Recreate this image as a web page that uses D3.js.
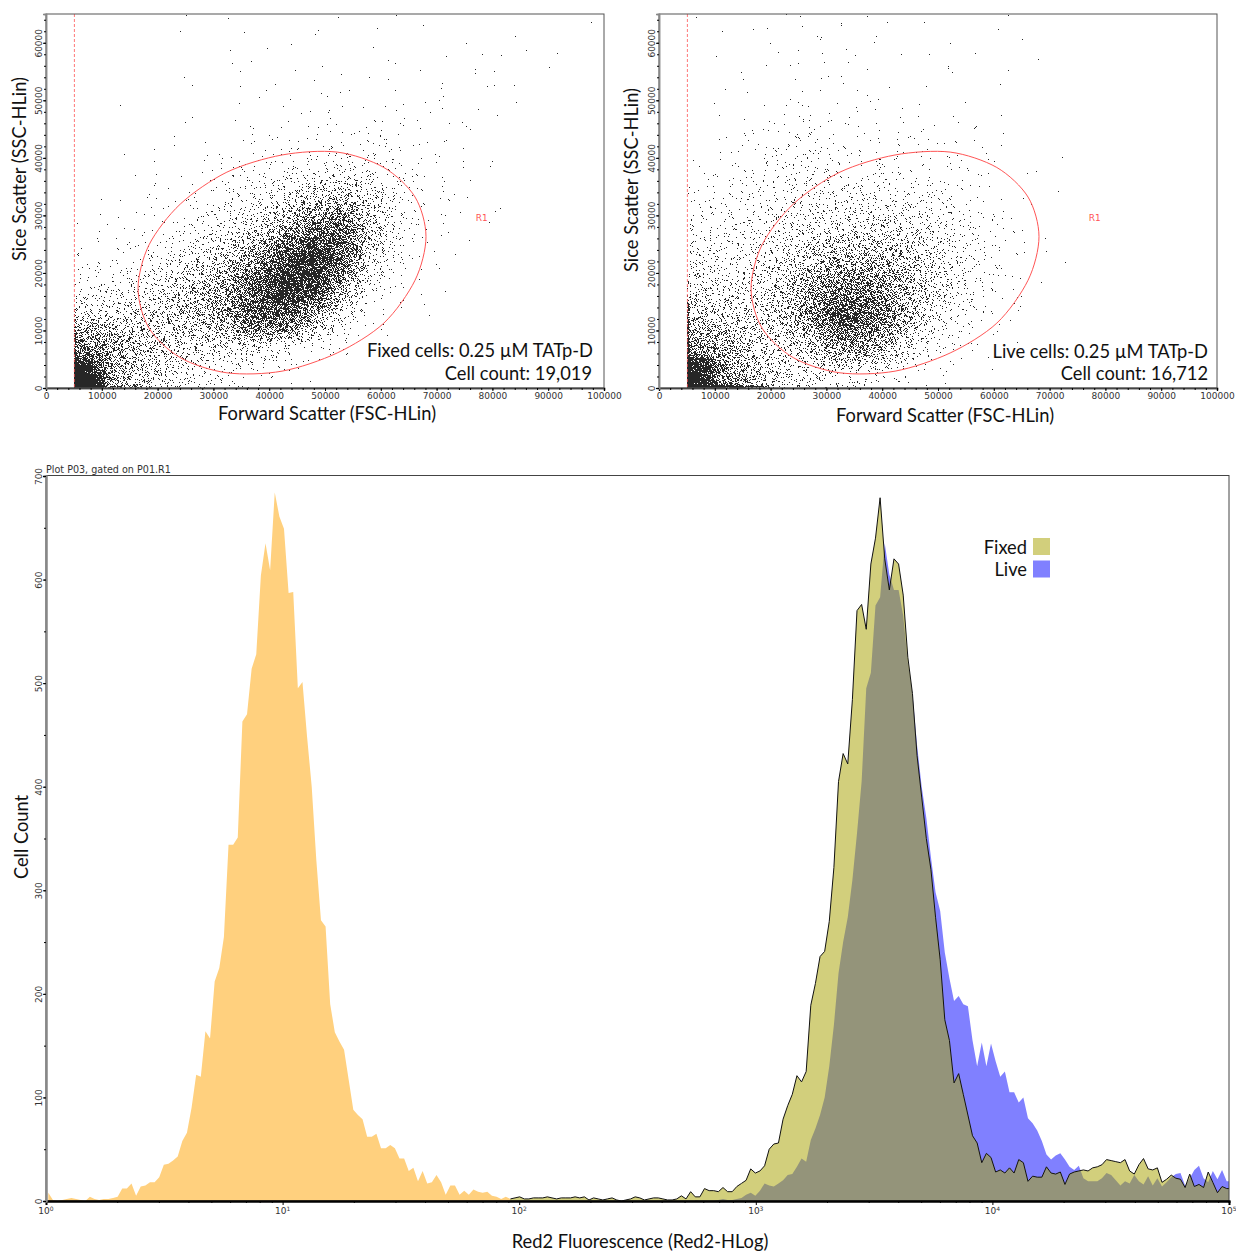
<!DOCTYPE html>
<html lang="en">
<head>
<meta charset="UTF-8">
<title>Fixed and live cells: scatter gates and Red2 histogram</title>
<script src="https://d3js.org/d3.v7.min.js"></script>
<style>
    body { margin: 0; background: #fff; }
    svg { display: block; }
    .tick text { font-family: "DejaVu Sans", sans-serif; font-size: 9px; fill: #333; }
    .title { font-family: Lato, sans-serif; font-size: 18.3px; fill: #111; }
    .small { font-family: "DejaVu Sans", sans-serif; font-size: 9px; fill: #333; }
</style>
</head>
<body>
<div id="chart"></div>
<script>
// Scatter density: dots per 5000 x 5000 cell.
// Rows go bottom to top, columns start at FSC 5000.
const fixedDensity = [
    [900, 300, 150, 80, 45, 22, 12, 5, 2, 1],
    [500, 300, 200, 150, 110, 110, 110, 55, 20, 6, 2],
    [110, 110, 130, 170, 220, 380, 850, 850, 330, 70, 10, 3, 1],
    [30, 35, 60, 120, 210, 350, 800, 1500, 1200, 330, 45, 8, 2, 1],
    [8, 10, 20, 40, 100, 180, 350, 900, 1500, 850, 130, 25, 5, 1, 1],
    [2, 4, 8, 12, 30, 70, 130, 280, 600, 750, 220, 45, 8, 2, 1, 1],
    [1, 2, 4, 6, 12, 25, 50, 90, 170, 240, 130, 35, 10, 5, 2],
    [0, 1, 2, 3, 7, 12, 18, 25, 35, 45, 40, 20, 8, 5, 2],
    [0, 0, 1, 1, 2, 3, 5, 8, 10, 12, 14, 11, 5, 3, 2],
    [0, 1, 0, 0, 1, 1, 3, 3, 4, 3, 5, 6, 3, 3, 2, 2],
    [0, 0, 0, 0, 1, 1, 2, 2, 2, 3, 3, 1, 2, 2, 3, 2],
    [0, 0, 0, 0, 1, 2, 1, 1, 1, 1, 1, 1, 1, 2, 2, 1, 1, 1],
    [0, 0, 0, 1, 1, 1, 1, 1, 1, 1, 0, 2, 1, 0, 0, 1, 1, 0, 1]
];
const liveDensity = [
    [800, 450, 170, 100, 70, 50, 30, 12, 5, 2, 1],
    [400, 250, 140, 110, 180, 420, 400, 160, 45, 15, 5, 2],
    [170, 130, 110, 190, 480, 950, 800, 350, 110, 35, 12, 4, 1],
    [90, 75, 90, 170, 360, 560, 500, 320, 160, 65, 22, 7, 2],
    [55, 45, 60, 100, 170, 250, 250, 210, 130, 55, 22, 8, 2, 1],
    [30, 35, 45, 65, 80, 95, 110, 110, 75, 45, 20, 6, 1],
    [17, 20, 28, 42, 50, 50, 50, 45, 35, 22, 10, 3, 1, 1],
    [5, 8, 15, 30, 32, 20, 18, 16, 14, 9, 5, 2, 1, 1],
    [2, 4, 8, 20, 20, 10, 8, 8, 10, 8, 4, 2],
    [1, 2, 3, 4, 10, 5, 5, 3, 3, 2, 1, 1],
    [0, 1, 1, 3, 3, 3, 2, 1, 1, 1, 1, 1],
    [0, 1, 1, 3, 2, 3, 3, 1, 1, 2, 1, 1, 1],
    [1, 1, 2, 3, 3, 3, 2, 1, 1, 1, 1, 1]
];
// Dark corner near the origin, 1250 x 1250 cells from (5000, 0)
const fixedCorner = [[400, 380, 220, 80], [260, 200, 110, 50], [140, 100, 50, 25], [80, 50, 25, 12]];
const liveCorner = [[160, 130, 90, 40], [130, 110, 70, 35], [110, 90, 60, 30], [100, 80, 50, 25]];
// Pile-up along the threshold line: 300 wide, 2500 tall cells from (5000, 0)
const fixedEdge = [[100], [60], [40], [25], [10], [5]];
const liveEdge = [[90], [70], [60], [50], [40], [25]];
// Pile-up along the x axis: 2500 wide, 300 tall cells from (5000, 0)
const liveFloor = [[160, 140, 110, 90, 50, 15]];
const fixedFloor = [[80, 50, 25, 12, 5, 2]];

const fscTicks = d3.range(0, 100001, 10000);
const fscMinor = d3.range(0, 100001, 2000);
const sscTicks = d3.range(0, 60001, 10000);
const sscMinor = d3.range(0, 65001, 2000);

// Gate R1 outline, same in both plots
const gateFsc = [68100, 66140, 60540, 52180, 42300, 32420, 24060, 18460, 16500, 18460, 24060, 32420, 42300, 52180, 60540, 66140];
const gateSsc = [26300, 33185, 38325, 41000, 40500, 37513, 31961, 24869, 17300, 10415, 5275, 2641, 2930, 6087, 11275, 18731];

// Histogram counts per channel (256 channels over 5 decades)
const unstainedCounts = [8, 1, 0, 1, 2, 3, 2, 1, 0, 4, 2, 1, 2, 2, 3, 4, 12, 12, 17, 5, 14, 15, 18, 18, 23, 35, 36, 39, 43, 58, 66, 90, 122, 120, 164, 157, 212, 225, 255, 344, 344, 351, 463, 470, 514, 528, 604, 635, 609, 684, 661, 649, 587, 588, 495, 501, 448, 400, 329, 271, 265, 190, 163, 154, 146, 117, 88, 83, 79, 62, 62, 65, 51, 51, 54, 51, 41, 41, 29, 32, 19, 29, 17, 18, 25, 18, 6, 15, 15, 6, 10, 6, 11, 9, 8, 9, 5, 4, 2, 4, 2, 1, 1, 0];
const fixedFirstChannel = 100;
const fixedCounts = [2, 3, 4, 2, 2, 3, 3, 3, 4, 3, 2, 3, 3, 3, 4, 3, 4, 1, 3, 2, 1, 2, 3, 1, 0, 1, 2, 4, 3, 1, 2, 3, 3, 2, 1, 1, 2, 5, 2, 9, 4, 4, 12, 10, 10, 9, 13, 9, 9, 14, 17, 20, 31, 27, 29, 34, 50, 55, 56, 79, 92, 103, 121, 115, 125, 189, 210, 236, 241, 270, 322, 405, 432, 422, 484, 570, 576, 552, 615, 640, 679, 620, 590, 620, 615, 585, 525, 490, 430, 390, 350, 320, 274, 233, 175, 155, 114, 123, 103, 83, 63, 56, 37, 46, 42, 28, 30, 27, 32, 27, 40, 37, 19, 24, 23, 23, 33, 27, 26, 28, 16, 26, 28, 29, 30, 29, 32, 33, 35, 40, 39, 38, 37, 40, 29, 26, 35, 41, 31, 30, 32, 18, 21, 25, 22, 21, 13, 26, 14, 16, 13, 28, 18, 8, 14, 12, 12];
const liveFirstChannel = 140;
const liveCounts = [1, 0, 0, 0, 0, 1, 2, 1, 1, 2, 3, 6, 8, 5, 10, 17, 15, 14, 17, 20, 25, 26, 33, 41, 38, 59, 70, 83, 100, 130, 170, 220, 250, 274, 310, 355, 405, 495, 510, 575, 583, 635, 605, 590, 590, 565, 520, 490, 440, 400, 370, 332, 298, 280, 240, 215, 193, 198, 190, 188, 155, 130, 153, 130, 152, 135, 120, 125, 105, 105, 95, 100, 80, 75, 68, 58, 45, 40, 44, 46, 40, 33, 30, 34, 22, 19, 19, 19, 22, 27, 25, 20, 15, 19, 17, 25, 19, 16, 24, 15, 22, 14, 18, 23, 26, 27, 15, 22, 30, 34, 22, 18, 29, 21, 30, 19, 19];
const countTicks = d3.range(0, 701, 100);
const countMinor = d3.range(0, 701, 50);
const decadeTicks = [1, 10, 100, 1000, 10000, 100000];
const decadeExponents = ["0", "1", "2", "3", "4", "5"];
const decadeMinor = decadeTicks.slice(0, 5).flatMap(d => d3.range(2, 10).map(m => m * d));
const legendNames = ["Fixed", "Live"];

const orange = "#ffd07e", yellow = "#d2cf7c", blue = "#8080ff", overlap = "#94947a", red = "#f55";

const svg = d3.select("#chart").append("svg").attr("width", 1236).attr("height", 1255);

// the source picture is a soft screenshot, so the dots get a slight blur
svg.append("filter").attr("id", "soft").append("feGaussianBlur").attr("stdDeviation", 0.35);

function halton(i, base) {
    let f = 1, r = 0;
    while (i > 0) {
        f /= base;
        r += f * (i % base);
        i = Math.floor(i / base);
    }
    return r;
}

// Stipple a density table: evenly spread dots (no randomness) inside each cell.
// Single dots are not read from the picture, only the counts per cell are.
let dotIndex = 1;
function stipple(path, table, x0, dx, dy, x, y) {
    table.forEach((row, r) => row.forEach((count, c) => {
        for (let k = 0; k < count; k++, dotIndex++) {
            let fsc = x0 + (c + 0.5) * dx + dx * (halton(dotIndex, 2) + halton(dotIndex, 5) - 1);
            let ssc = (r + 0.5) * dy + dy * (halton(dotIndex, 3) + halton(dotIndex, 7) - 1);
            if (fsc < 5000) fsc = 10000 - fsc;
            if (fsc > 100000) fsc = 200000 - fsc;
            if (ssc < 0) ssc = -ssc;
            if (ssc > 65000) ssc = 130000 - ssc;
            path.rect(Math.round(x(fsc)), Math.round(y(ssc)) - 1, 0.9, 0.9);
        }
    }));
}

function scatterPlot(opts) {
    const x = d3.scaleLinear().domain([0, 100000]).range([opts.left, opts.left + 558]);
    const y = d3.scaleLinear().domain([0, 65000]).range([388, 14]);
    const g = svg.append("g");

    const dots = d3.path();
    stipple(dots, opts.density, 5000, 5000, 5000, x, y);
    stipple(dots, opts.corner, 5000, 1250, 1250, x, y);
    stipple(dots, opts.edge, 5000, 300, 2500, x, y);
    stipple(dots, opts.floor, 5000, 2500, 300, x, y);
    g.append("path").attr("d", dots.toString()).attr("fill", "#111").attr("filter", "url(#soft)");

    // threshold line and gate
    g.append("line").attr("x1", x(5000) + 0.5).attr("x2", x(5000) + 0.5).attr("y1", y(65000)).attr("y2", y(0))
        .attr("stroke", red).attr("stroke-width", 0.8).attr("stroke-dasharray", "3,2");
    const gate = d3.line().x(i => x(gateFsc[i])).y(i => y(gateSsc[i])).curve(d3.curveCardinalClosed.tension(0.1));
    g.append("path").attr("d", gate(d3.range(gateFsc.length))).attr("fill", "none").attr("stroke", red).attr("stroke-width", 1);
    g.append("text").attr("class", "small").attr("x", x(78100)).attr("y", y(29560)).attr("dy", "0.35em")
        .attr("text-anchor", "middle").style("fill", red).text("R1");

    g.append("rect").attr("x", x(0)).attr("y", y(65000)).attr("width", 558).attr("height", 374)
        .attr("fill", "none").attr("stroke", "#555");

    const xAxis = g.append("g").attr("transform", "translate(0,388)");
    xAxis.call(d3.axisBottom(x).tickValues(fscTicks).tickFormat(d3.format("d")).tickSize(3).tickPadding(2));
    xAxis.append("g").call(d3.axisBottom(x).tickValues(fscMinor).tickFormat("").tickSize(2));
    xAxis.selectAll(".domain").attr("stroke", "#444").attr("stroke-width", 1.5);

    const yAxis = g.append("g").attr("transform", `translate(${x(0)},0)`);
    yAxis.call(d3.axisLeft(y).tickValues(sscTicks).tickFormat(d3.format("d")).tickSize(3));
    yAxis.append("g").call(d3.axisLeft(y).tickValues(sscMinor).tickFormat("").tickSize(2));
    yAxis.selectAll(".domain").attr("stroke", "#888").attr("stroke-width", 1.5);
    yAxis.selectAll(".tick text").attr("x", 0).attr("dy", 0).attr("text-anchor", "middle")
        .attr("transform", "translate(-4,0) rotate(-90)");

    g.append("text").attr("class", "title").attr("x", opts.xTitleX).attr("y", opts.xTitleY).attr("dy", "0.35em")
        .attr("text-anchor", "middle").text("Forward Scatter (FSC-HLin)");
    g.append("text").attr("class", "title").attr("text-anchor", "middle").attr("dy", "0.35em")
        .attr("transform", `translate(${opts.yTitleX},${opts.yTitleY}) rotate(-90)`).text("Sice Scatter (SSC-HLin)");
    opts.notes.forEach(n => g.append("text").attr("class", "title").attr("x", n[0]).attr("y", n[1]).attr("dy", "0.35em")
        .attr("text-anchor", "end").text(n[2]));
}

scatterPlot({
    left: 46, density: fixedDensity, corner: fixedCorner, edge: fixedEdge, floor: fixedFloor,
    xTitleX: 327, xTitleY: 414, yTitleX: 20, yTitleY: 169,
    notes: [[593, 351, "Fixed cells: 0.25 µM TATp-D"], [592, 374, "Cell count: 19,019"]]
});
scatterPlot({
    left: 659, density: liveDensity, corner: liveCorner, edge: liveEdge, floor: liveFloor,
    xTitleX: 945, xTitleY: 416, yTitleX: 632, yTitleY: 180,
    notes: [[1208, 352, "Live cells:  0.25 µM TATp-D"], [1208, 374, "Cell count: 16,712"]]
});

// Histogram
const x = d3.scaleLog().domain([1, 100000]).range([46, 1229]);
const y = d3.scaleLinear().domain([0, 700]).range([1201, 476]);
const channelValue = ch => Math.pow(10, (ch + 0.5) * 5 / 256);
const toPoints = (counts, first) => counts.map((c, i) => ({v: channelValue(first + i), c}));

const unstained = toPoints(unstainedCounts, 0);
const fixed = toPoints(fixedCounts, fixedFirstChannel);
const live = toPoints(liveCounts, liveFirstChannel);

const area = d3.area().x(d => Math.min(x(d.v), 1229)).y0(y(0)).y1(d => y(d.c));
const line = d3.line().x(d => Math.min(x(d.v), 1229)).y(d => y(d.c));
const hist = svg.append("g");

hist.append("clipPath").attr("id", "fixedClip").append("path").attr("d", area(fixed));
hist.append("path").attr("d", area(unstained)).attr("fill", orange);
hist.append("path").attr("d", area(live)).attr("fill", blue);
hist.append("path").attr("d", area(fixed)).attr("fill", yellow);
hist.append("path").attr("d", area(live)).attr("fill", overlap).attr("clip-path", "url(#fixedClip)");
hist.append("path").attr("d", line(fixed)).attr("fill", "none").attr("stroke", "#111").attr("stroke-width", 1);

hist.append("rect").attr("x", 46).attr("y", 475.5).attr("width", 1183).attr("height", 725.5)
    .attr("fill", "none").attr("stroke", "#444");

const xAxisH = hist.append("g").attr("transform", "translate(0,1201)");
xAxisH.call(d3.axisBottom(x).tickValues(decadeTicks).tickFormat("").tickSize(4));
xAxisH.append("g").call(d3.axisBottom(x).tickValues(decadeMinor).tickFormat("").tickSize(2));
xAxisH.selectAll(".domain").attr("stroke", "#000").attr("stroke-width", 2);
decadeTicks.forEach((d, i) => {
    const t = hist.append("text").attr("class", "small").attr("x", x(d)).attr("y", 1214).attr("text-anchor", "middle");
    t.append("tspan").text("10");
    t.append("tspan").attr("dy", -3).style("font-size", "6px").text(decadeExponents[i]);
});

const yAxisH = hist.append("g").attr("transform", "translate(46,0)");
yAxisH.call(d3.axisLeft(y).tickValues(countTicks).tickFormat(d3.format("d")).tickSize(3));
yAxisH.append("g").call(d3.axisLeft(y).tickValues(countMinor).tickFormat("").tickSize(2));
yAxisH.selectAll(".domain").attr("stroke", "#888").attr("stroke-width", 2);
yAxisH.selectAll(".tick text").attr("x", 0).attr("dy", 0).attr("text-anchor", "middle")
    .attr("transform", "translate(-4,0) rotate(-90)");

hist.append("text").attr("class", "small").attr("x", 46).attr("y", 473).style("font-size", "9.6px").text("Plot P03, gated on P01.R1");
hist.append("text").attr("class", "title").attr("x", 640).attr("y", 1242).attr("dy", "0.35em")
    .attr("text-anchor", "middle").text("Red2 Fluorescence (Red2-HLog)");
hist.append("text").attr("class", "title").attr("text-anchor", "middle").attr("dy", "0.35em")
    .attr("transform", "translate(22,837) rotate(-90)").text("Cell Count");

// Legend
legendNames.forEach((name, i) => {
    hist.append("rect").attr("x", 1033).attr("y", 538 + i * 22.5).attr("width", 17).attr("height", 17)
        .attr("fill", i === 0 ? yellow : blue);
    hist.append("text").attr("class", "title").attr("x", 1027).attr("y", 548 + i * 21.5).attr("dy", "0.35em")
        .attr("text-anchor", "end").text(name);
});
</script>
</body>
</html>
